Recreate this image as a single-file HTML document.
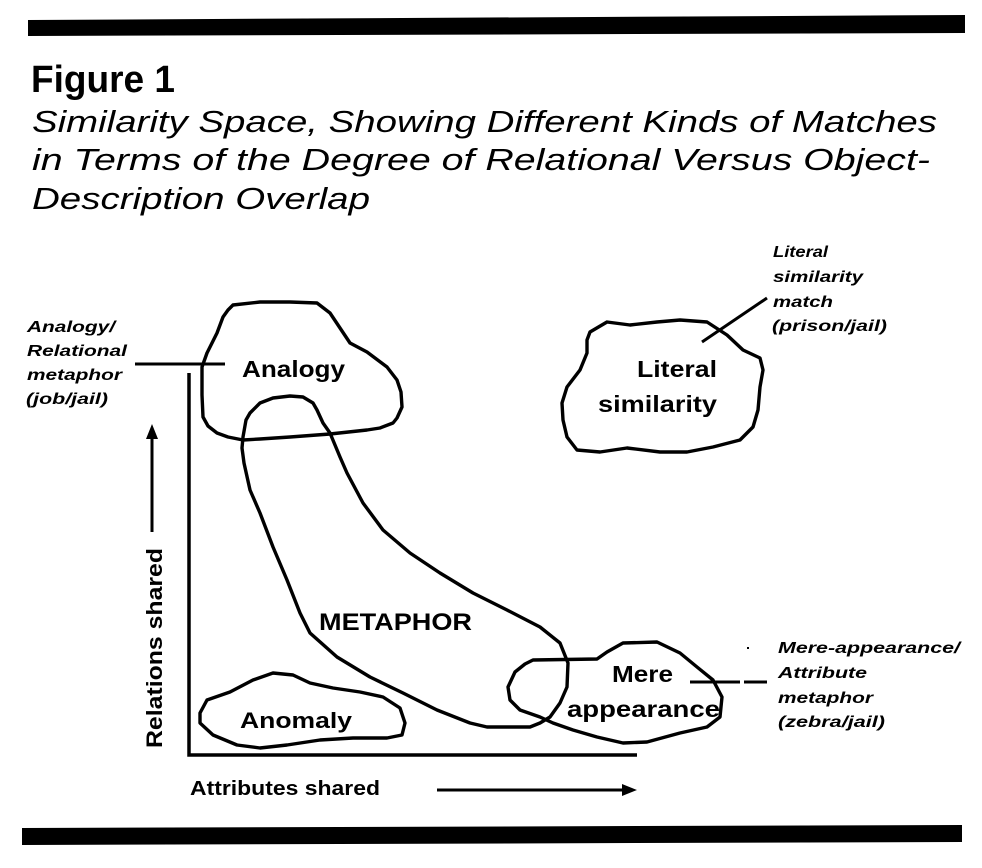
<!DOCTYPE html>
<html>
<head>
<meta charset="utf-8">
<style>
  html, body { margin: 0; padding: 0; background: #ffffff; }
  body { width: 982px; height: 868px; overflow: hidden; }
  svg { display: block; }
  .ttl { font-family: "Liberation Sans", sans-serif; font-style: italic; font-weight: normal; fill: #000; }
  .fig { font-family: "Liberation Sans", sans-serif; font-weight: bold; fill: #000; }
  .lbl { font-family: "Liberation Sans", sans-serif; font-weight: bold; fill: #000; }
  .sm  { font-family: "Liberation Sans", sans-serif; font-weight: bold; font-style: italic; fill: #000; font-size: 16px; }
  .blob { fill: none; stroke: #000; stroke-width: 3.4; stroke-linejoin: round; stroke-linecap: round; }
  .ln { stroke: #000; stroke-width: 3; fill: none; }
</style>
</head>
<body>
<svg width="982" height="868" viewBox="0 0 982 868" xmlns="http://www.w3.org/2000/svg">
  <rect x="0" y="0" width="982" height="868" fill="#fff"/>

  <!-- top bar -->
  <polygon points="28,20 965,15 965,33 28,36" fill="#000"/>

  <!-- title -->
  <text class="fig" x="31" y="92" font-size="38" textLength="144" lengthAdjust="spacingAndGlyphs">Figure 1</text>
  <text class="ttl" x="32" y="132" font-size="31" textLength="905" lengthAdjust="spacingAndGlyphs">Similarity Space, Showing Different Kinds of Matches</text>
  <text class="ttl" x="32" y="170" font-size="31" textLength="898" lengthAdjust="spacingAndGlyphs">in Terms of the Degree of Relational Versus Object-</text>
  <text class="ttl" x="32" y="209" font-size="31" textLength="338" lengthAdjust="spacingAndGlyphs">Description Overlap</text>

  <!-- top-right label -->
  <text class="sm" x="773" y="257" textLength="55" lengthAdjust="spacingAndGlyphs">Literal</text>
  <text class="sm" x="773" y="282" textLength="90" lengthAdjust="spacingAndGlyphs">similarity</text>
  <text class="sm" x="773" y="307" textLength="60" lengthAdjust="spacingAndGlyphs">match</text>
  <text class="sm" x="772" y="331" textLength="115" lengthAdjust="spacingAndGlyphs">(prison/jail)</text>

  <!-- left label -->
  <text class="sm" x="27" y="332" textLength="88" lengthAdjust="spacingAndGlyphs">Analogy/</text>
  <text class="sm" x="27" y="356" textLength="100" lengthAdjust="spacingAndGlyphs">Relational</text>
  <text class="sm" x="27" y="380" textLength="95" lengthAdjust="spacingAndGlyphs">metaphor</text>
  <text class="sm" x="26" y="404" textLength="82" lengthAdjust="spacingAndGlyphs">(job/jail)</text>

  <!-- right lower label -->
  <text class="sm" x="778" y="653" textLength="182" lengthAdjust="spacingAndGlyphs">Mere-appearance/</text>
  <text class="sm" x="778" y="678" textLength="89" lengthAdjust="spacingAndGlyphs">Attribute</text>
  <text class="sm" x="778" y="703" textLength="95" lengthAdjust="spacingAndGlyphs">metaphor</text>
  <text class="sm" x="778" y="727" textLength="107" lengthAdjust="spacingAndGlyphs">(zebra/jail)</text>

  <!-- axes -->
  <path d="M189,373 L189,755 L637,755" fill="none" stroke="#000" stroke-width="3.5"/>

  <!-- up arrow -->
  <line x1="152" y1="532" x2="152" y2="436" class="ln"/>
  <polygon points="152,424 146,439 158,439" fill="#000"/>
  <!-- right arrow -->
  <line x1="437" y1="790" x2="624" y2="790" class="ln"/>
  <polygon points="637,790 622,784 622,796" fill="#000"/>

  <!-- axis labels -->
  <text class="lbl" x="190" y="795" font-size="20" textLength="190" lengthAdjust="spacingAndGlyphs">Attributes shared</text>
  <text class="lbl" transform="translate(162,748) rotate(-90)" x="0" y="0" font-size="22" textLength="200" lengthAdjust="spacingAndGlyphs">Relations shared</text>

  <!-- leader lines -->
  <line x1="135" y1="364" x2="225" y2="364" class="ln"/>
  <line x1="702" y1="342" x2="767" y2="298" class="ln"/>
  <line x1="690" y1="682" x2="740" y2="682" class="ln"/>
  <line x1="744" y1="682" x2="767" y2="682" class="ln"/>
  <rect x="747" y="647" width="2" height="2" fill="#000"/>

  <!-- Analogy blob -->
  <polygon class="blob" points="233,305 260,302 290,302 317,303 330,313 340,328 350,343 367,352 387,367 397,380 401,392 402,407 397,418 393,423 380,428 367,430 330,434 290,437 260,439 243,440 228,437 217,433 208,426 203,417 202,395 202,367 207,353 212,343 217,333 223,317 228,310"/>

  <!-- Literal similarity blob -->
  <polygon class="blob" points="587,340 590,332 607,322 630,325 657,322 680,320 707,322 727,335 743,350 760,358 763,370 760,387 758,410 753,427 740,440 713,447 687,452 660,452 627,448 600,452 577,450 567,437 563,420 562,403 567,387 580,370 587,353"/>

  <!-- METAPHOR blob -->
  <polygon class="blob" points="243,437 246,420 250,413 260,403 273,398 290,396 303,397 313,403 317,410 323,423 330,433 340,457 347,473 363,503 383,530 410,553 440,573 473,593 507,610 540,627 560,643 568,663 567,687 560,703 550,717 540,723 530,727 487,727 470,723 437,710 403,693 370,677 337,657 310,633 300,613 287,580 273,547 260,513 250,490 244,463 242,448"/>

  <!-- Mere appearance blob -->
  <polygon class="blob" points="533,660 597,659 607,652 623,643 657,642 680,653 697,667 713,680 722,697 720,717 707,727 680,733 647,742 623,743 597,737 573,730 553,723 540,717 520,710 510,700 508,687 515,672 525,664"/>

  <!-- Anomaly blob -->
  <polygon class="blob" points="200,713 207,700 230,692 253,680 273,673 293,675 310,683 333,688 360,692 383,697 400,708 405,723 402,735 387,738 353,738 320,740 287,745 260,748 237,745 213,735 200,723"/>

  <!-- region labels -->
  <text class="lbl" x="242" y="377" font-size="23" textLength="103" lengthAdjust="spacingAndGlyphs">Analogy</text>
  <text class="lbl" x="637" y="377" font-size="23" textLength="80" lengthAdjust="spacingAndGlyphs">Literal</text>
  <text class="lbl" x="598" y="412" font-size="23" textLength="119" lengthAdjust="spacingAndGlyphs">similarity</text>
  <text class="lbl" x="319" y="630" font-size="24" textLength="153" lengthAdjust="spacingAndGlyphs">METAPHOR</text>
  <text class="lbl" x="240" y="728" font-size="22" textLength="112" lengthAdjust="spacingAndGlyphs">Anomaly</text>
  <text class="lbl" x="612" y="682" font-size="23" textLength="61" lengthAdjust="spacingAndGlyphs">Mere</text>
  <text class="lbl" x="567" y="717" font-size="23" textLength="153" lengthAdjust="spacingAndGlyphs">appearance</text>

  <!-- bottom bar -->
  <polygon points="22,828 962,825 962,842 22,845" fill="#000"/>
</svg>
</body>
</html>
